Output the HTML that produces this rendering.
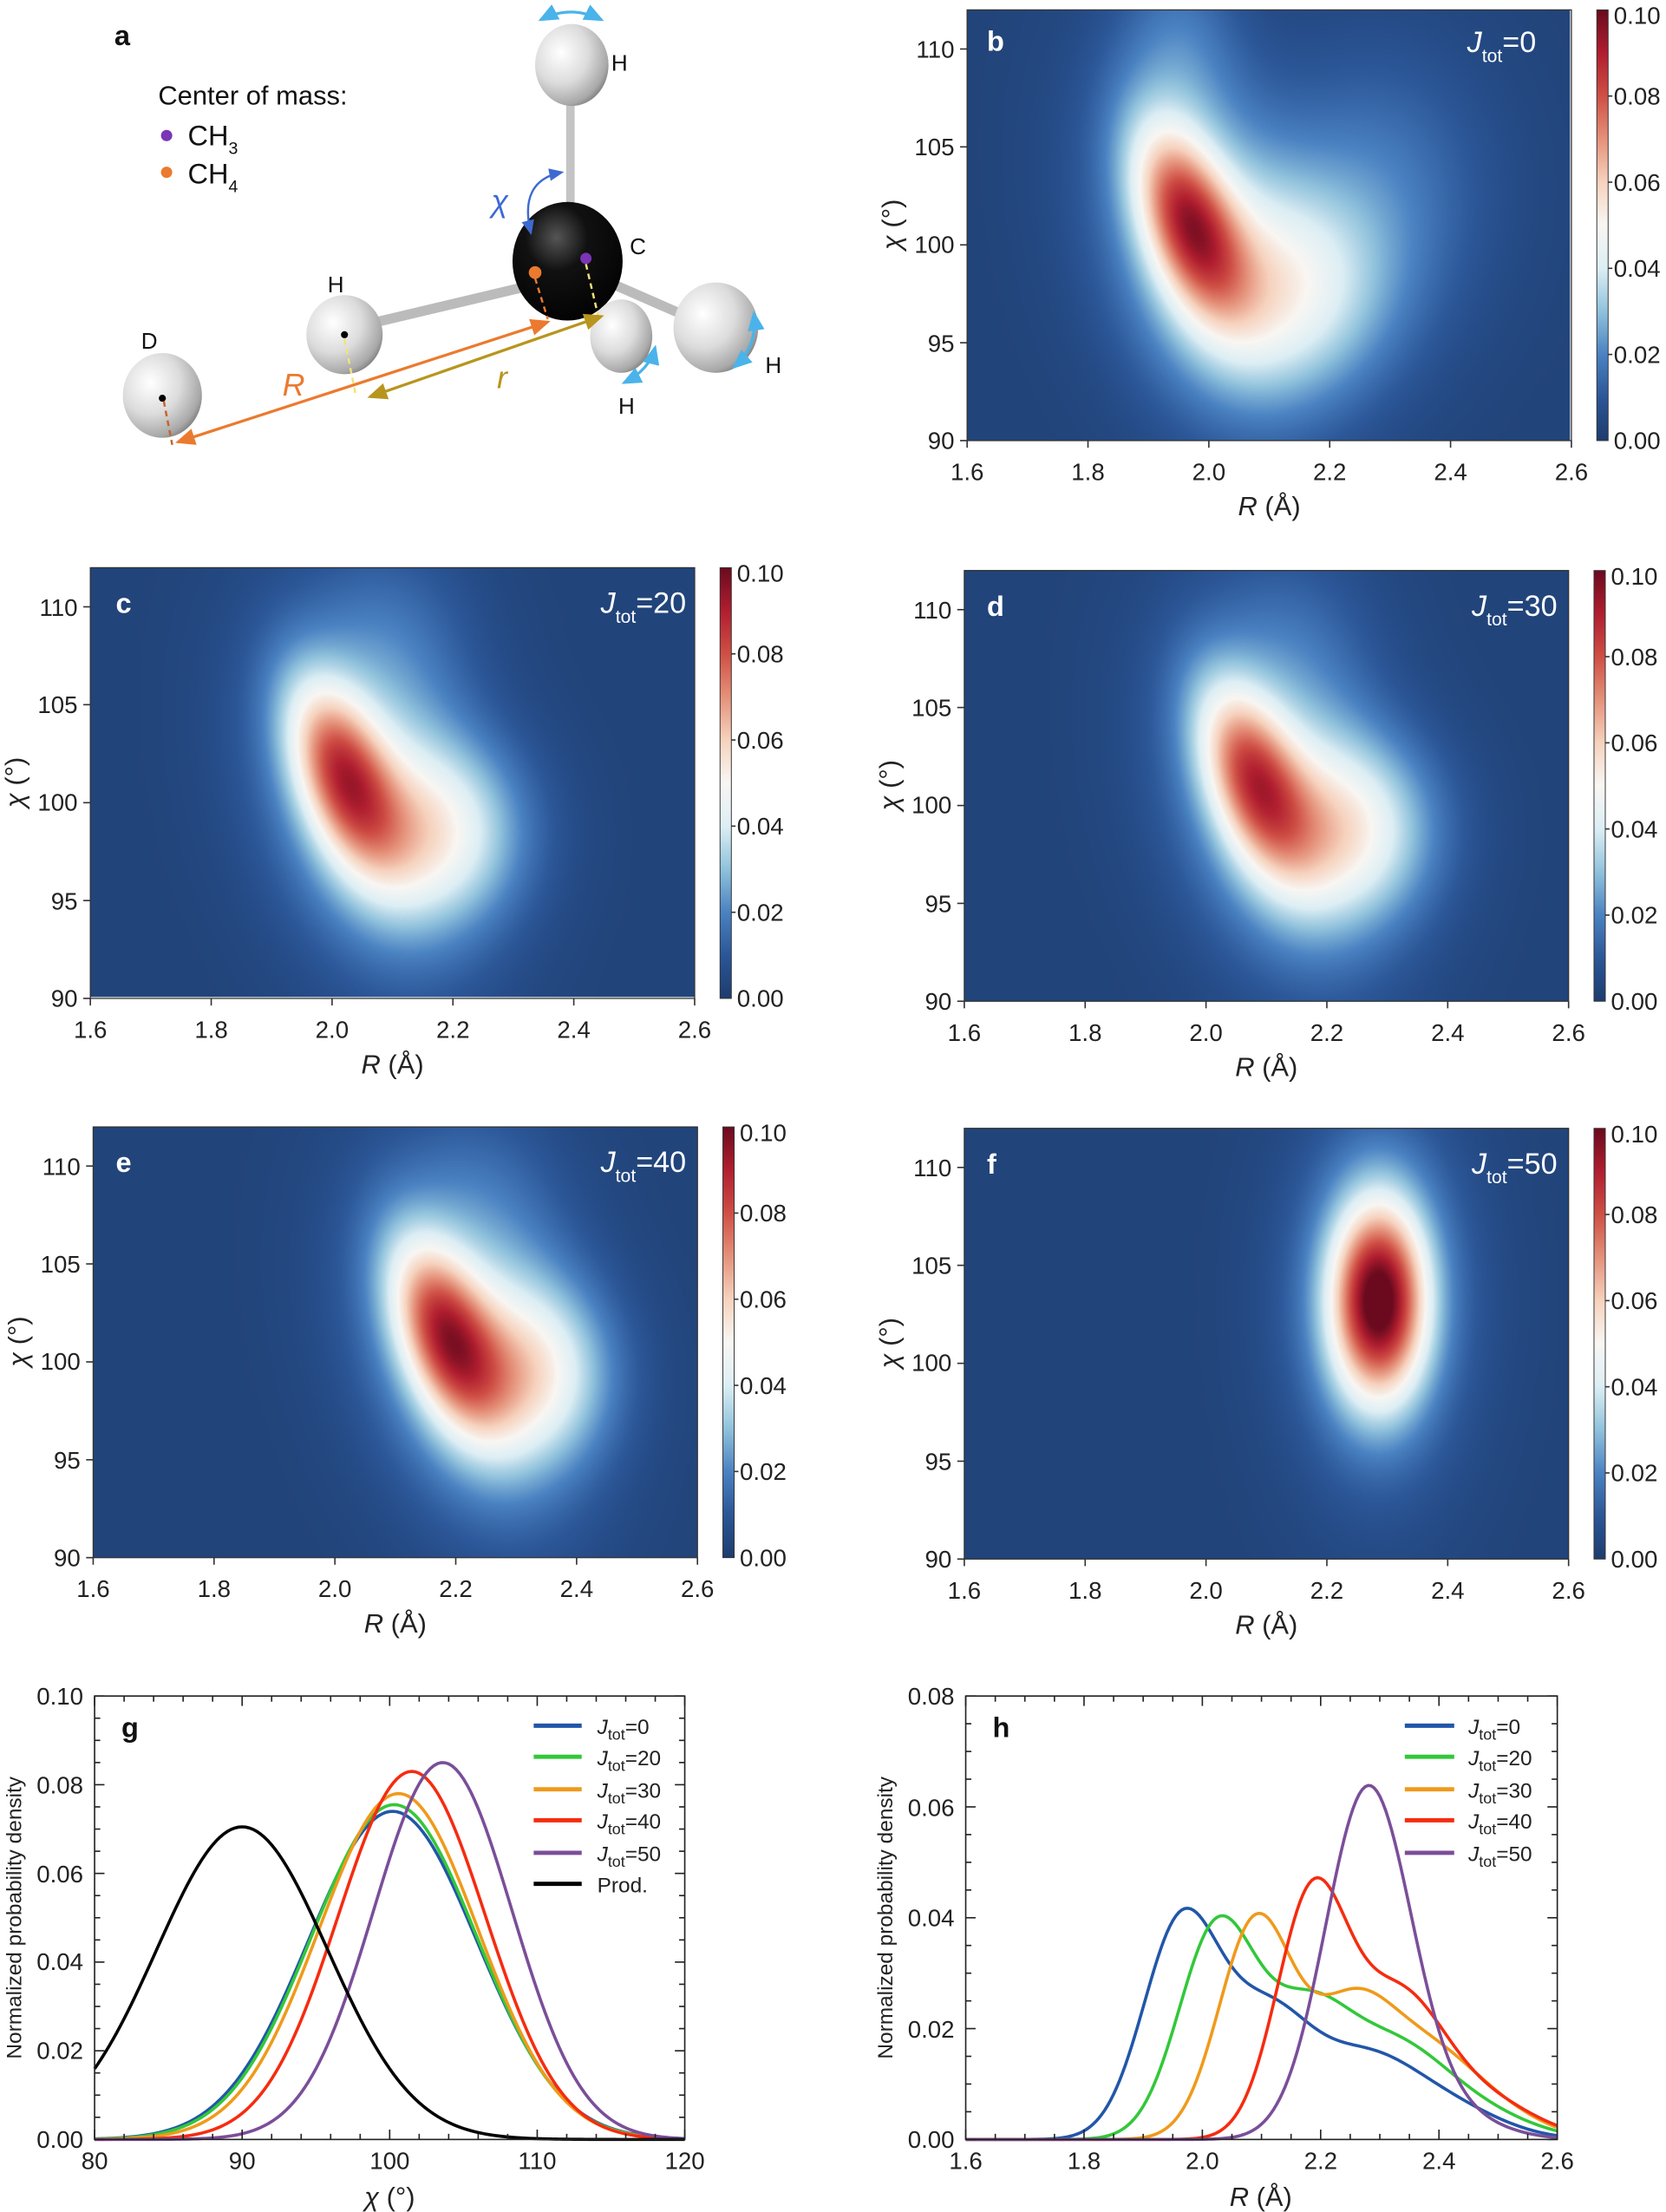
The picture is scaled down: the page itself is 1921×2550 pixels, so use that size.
<!DOCTYPE html>
<html><head><meta charset="utf-8">
<style>
html,body{margin:0;padding:0;background:#fff;overflow:hidden;width:1921px;height:2550px}
#w{position:absolute;left:0;top:0;width:1180px;height:1566px;transform:scale(1.62797);transform-origin:0 0}
canvas{position:absolute}
svg{position:absolute;left:0;top:0}
text{font-family:"Liberation Sans",Arial,sans-serif}
.t{font-size:17px;fill:#222}
.ax{font-size:19px;fill:#222}
.sm{font-size:15px;fill:#222}
</style></head><body><div id="w">
<canvas id="cb" style="left:685px;top:7px;width:427px;height:305px" width="854" height="610"></canvas>
<canvas id="cc" style="left:64px;top:402px;width:428px;height:304px" width="856" height="608"></canvas>
<canvas id="cd" style="left:683px;top:404px;width:428px;height:305px" width="856" height="610"></canvas>
<canvas id="ce" style="left:66px;top:798px;width:428px;height:305px" width="856" height="610"></canvas>
<canvas id="cf" style="left:683px;top:799px;width:428px;height:305px" width="856" height="610"></canvas>
<svg width="1180" height="1566" viewBox="0 0 1180 1566">
<defs>
<linearGradient id="cmap" x1="0" y1="1" x2="0" y2="0">
<stop offset="0" stop-color="#1d3c6e"/><stop offset="0.1" stop-color="#2b5697"/><stop offset="0.2" stop-color="#4a82c2"/><stop offset="0.3" stop-color="#90c2dc"/><stop offset="0.4" stop-color="#dceef4"/><stop offset="0.5" stop-color="#f8f6f3"/><stop offset="0.6" stop-color="#f6d2bd"/><stop offset="0.7" stop-color="#e5917a"/><stop offset="0.8" stop-color="#cf4f45"/><stop offset="0.9" stop-color="#b01e2f"/><stop offset="1" stop-color="#6b0a1e"/>
</linearGradient>
<radialGradient id="hsph" cx="0.35" cy="0.35" r="0.75"><stop offset="0" stop-color="#ffffff"/><stop offset="0.5" stop-color="#dcdcdc"/><stop offset="0.85" stop-color="#a8a8a8"/><stop offset="1" stop-color="#707070"/></radialGradient>
<radialGradient id="csph" cx="0.4" cy="0.3" r="0.8"><stop offset="0" stop-color="#555"/><stop offset="0.35" stop-color="#111"/><stop offset="1" stop-color="#000"/></radialGradient>
<marker id="ao" markerWidth="8" markerHeight="8" refX="6" refY="4" orient="auto-start-reverse"><path d="M0,1 L7,4 L0,7z" fill="#ec7a2e"/></marker>
<marker id="ag" markerWidth="8" markerHeight="8" refX="6" refY="4" orient="auto-start-reverse"><path d="M0,1 L7,4 L0,7z" fill="#b8961e"/></marker>
<marker id="ab" markerWidth="8" markerHeight="8" refX="6" refY="4" orient="auto-start-reverse"><path d="M0,1 L7,4 L0,7z" fill="#3d6ad1"/></marker>
<marker id="ac" markerWidth="8" markerHeight="8" refX="6" refY="4" orient="auto-start-reverse"><path d="M0,1 L7,4 L0,7z" fill="#4ab3ea"/></marker>
<g id="hp">
<rect x="0" y="0" width="428" height="305" fill="none" stroke="#333" stroke-width="0.8"/>
<g stroke="#333" stroke-width="1">
<line x1="0" y1="305" x2="0" y2="310"/><line x1="85.6" y1="305" x2="85.6" y2="310"/><line x1="171.2" y1="305" x2="171.2" y2="310"/><line x1="256.8" y1="305" x2="256.8" y2="310"/><line x1="342.4" y1="305" x2="342.4" y2="310"/><line x1="428" y1="305" x2="428" y2="310"/>
<line x1="-5" y1="27.7" x2="0" y2="27.7"/><line x1="-5" y1="97" x2="0" y2="97"/><line x1="-5" y1="166.4" x2="0" y2="166.4"/><line x1="-5" y1="235.7" x2="0" y2="235.7"/><line x1="-5" y1="305" x2="0" y2="305"/>
</g>
<rect x="446" y="0" width="8" height="305" fill="url(#cmap)" stroke="#333" stroke-width="0.6"/>
<g stroke="#333"><line x1="454" y1="61" x2="457" y2="61"/><line x1="454" y1="122" x2="457" y2="122"/><line x1="454" y1="183" x2="457" y2="183"/><line x1="454" y1="244" x2="457" y2="244"/></g>
<g class="t" text-anchor="middle">
<text x="0" y="333">1.6</text><text x="85.6" y="333">1.8</text><text x="171.2" y="333">2.0</text><text x="256.8" y="333">2.2</text><text x="342.4" y="333">2.4</text><text x="428" y="333">2.6</text>
</g>
<g class="t" text-anchor="end">
<text x="-9" y="34">110</text><text x="-9" y="103">105</text><text x="-9" y="172">100</text><text x="-9" y="242">95</text><text x="-9" y="311">90</text>
</g>
<g class="t">
<text x="458" y="10">0.10</text><text x="458" y="67">0.08</text><text x="458" y="128">0.06</text><text x="458" y="189">0.04</text><text x="458" y="250">0.02</text><text x="458" y="311">0.00</text>
</g>
<text x="214" y="358" class="ax" text-anchor="middle"><tspan font-style="italic">R</tspan> (Å)</text>
<text transform="translate(-47,152) rotate(-90)" class="ax" text-anchor="middle"><tspan font-style="italic">χ</tspan> (°)</text>
</g>
</defs>

<!-- Panel a -->
<text x="81" y="32" style="font-size:20px;font-weight:bold" fill="#111">a</text>
<text x="112" y="74" style="font-size:19px" fill="#111">Center of mass:</text>
<circle cx="118" cy="96" r="4" fill="#7a35b5"/><text x="133" y="103" style="font-size:20px" fill="#111">CH<tspan dy="6" style="font-size:12px">3</tspan></text>
<circle cx="118" cy="122" r="4" fill="#ec7a2e"/><text x="133" y="130" style="font-size:20px" fill="#111">CH<tspan dy="6" style="font-size:12px">4</tspan></text>
<line x1="404" y1="60" x2="404" y2="170" stroke="#c4c4c4" stroke-width="6"/>
<line x1="250" y1="232" x2="385" y2="200" stroke="#bbb" stroke-width="7"/>
<line x1="420" y1="195" x2="500" y2="230" stroke="#bbb" stroke-width="7"/>
<ellipse cx="405" cy="46" rx="26" ry="29" fill="url(#hsph)"/>
<ellipse cx="244" cy="237" rx="27" ry="28" fill="url(#hsph)"/>
<ellipse cx="115" cy="280" rx="28" ry="30" fill="url(#hsph)"/>
<ellipse cx="402" cy="185" rx="39" ry="42" fill="url(#csph)"/>
<ellipse cx="440" cy="238" rx="22" ry="26" fill="url(#hsph)"/>
<ellipse cx="507" cy="232" rx="30" ry="32" fill="url(#hsph)"/>
<circle cx="415" cy="183" r="4" fill="#7a35b5"/><circle cx="379" cy="193" r="4.5" fill="#ec7a2e"/>
<circle cx="244" cy="237" r="2.5" fill="#000"/><circle cx="115" cy="282" r="2.5" fill="#000"/>
<line x1="379" y1="197" x2="388" y2="226" stroke="#ec7a2e" stroke-width="1.5" stroke-dasharray="4,3"/>
<line x1="415" y1="187" x2="424" y2="225" stroke="#f1e27a" stroke-width="1.5" stroke-dasharray="4,3"/>
<line x1="244" y1="240" x2="252" y2="280" stroke="#f1e27a" stroke-width="1.5" stroke-dasharray="4,3"/>
<line x1="116" y1="284" x2="122" y2="315" stroke="#c5642a" stroke-width="1.5" stroke-dasharray="4,3"/>
<line x1="126" y1="313" x2="388" y2="228" stroke="#ec7a2e" stroke-width="2" marker-start="url(#ao)" marker-end="url(#ao)"/>
<line x1="262" y1="281" x2="426" y2="224" stroke="#b8961e" stroke-width="2" marker-start="url(#ag)" marker-end="url(#ag)"/>
<path d="M376,165 Q367,128 398,122" fill="none" stroke="#3d6ad1" stroke-width="1.5" marker-start="url(#ab)" marker-end="url(#ab)"/>
<path d="M383,14 Q404,3 426,14" fill="none" stroke="#4ab3ea" stroke-width="2" marker-start="url(#ac)" marker-end="url(#ac)"/>
<path d="M442,271 Q460,262 464,246" fill="none" stroke="#4ab3ea" stroke-width="2" marker-start="url(#ac)" marker-end="url(#ac)"/>
<path d="M520,260 Q537,245 534,222" fill="none" stroke="#4ab3ea" stroke-width="2" marker-start="url(#ac)" marker-end="url(#ac)"/>
<text x="348" y="150" style="font-size:22px;font-style:italic" fill="#3d6ad1">χ</text>
<text x="200" y="280" style="font-size:22px;font-style:italic" fill="#ec7a2e">R</text>
<text x="352" y="275" style="font-size:22px;font-style:italic" fill="#b8961e">r</text>
<text x="433" y="50" style="font-size:16px" fill="#111">H</text>
<text x="446" y="180" style="font-size:16px" fill="#111">C</text>
<text x="232" y="207" style="font-size:16px" fill="#111">H</text>
<text x="542" y="264" style="font-size:16px" fill="#111">H</text>
<text x="438" y="293" style="font-size:16px" fill="#111">H</text>
<text x="100" y="247" style="font-size:16px" fill="#111">D</text>
</svg>
<svg id="s2" width="1180" height="1566" viewBox="0 0 1180 1566">
<g transform="translate(685,7)"><use href="#hp"/><text x="14" y="29" style="font-size:20px;font-weight:bold" fill="#fff">b</text><text x="403" y="30" text-anchor="end" style="font-size:21px" fill="#fff"><tspan font-style="italic">J</tspan><tspan dy="7" style="font-size:13px">tot</tspan><tspan dy="-7">=0</tspan></text></g>
<g transform="translate(64,402)"><use href="#hp"/><text x="18" y="32" style="font-size:20px;font-weight:bold" fill="#fff">c</text><text x="422" y="32" text-anchor="end" style="font-size:21px" fill="#fff"><tspan font-style="italic">J</tspan><tspan dy="7" style="font-size:13px">tot</tspan><tspan dy="-7">=20</tspan></text></g>
<g transform="translate(683,404)"><use href="#hp"/><text x="16" y="32" style="font-size:20px;font-weight:bold" fill="#fff">d</text><text x="420" y="32" text-anchor="end" style="font-size:21px" fill="#fff"><tspan font-style="italic">J</tspan><tspan dy="7" style="font-size:13px">tot</tspan><tspan dy="-7">=30</tspan></text></g>
<g transform="translate(66,798)"><use href="#hp"/><text x="16" y="32" style="font-size:20px;font-weight:bold" fill="#fff">e</text><text x="420" y="32" text-anchor="end" style="font-size:21px" fill="#fff"><tspan font-style="italic">J</tspan><tspan dy="7" style="font-size:13px">tot</tspan><tspan dy="-7">=40</tspan></text></g>
<g transform="translate(683,799)"><use href="#hp"/><text x="16" y="32" style="font-size:20px;font-weight:bold" fill="#fff">f</text><text x="420" y="32" text-anchor="end" style="font-size:21px" fill="#fff"><tspan font-style="italic">J</tspan><tspan dy="7" style="font-size:13px">tot</tspan><tspan dy="-7">=50</tspan></text></g>

<!-- Panel g -->
<g transform="translate(67,1201)">
<g id="gcurves"></g>
<rect x="0" y="0" width="418" height="314" fill="none" stroke="#222" stroke-width="1"/>
<g id="gticks" stroke="#222" stroke-width="1"></g>
<g class="t" text-anchor="middle"><text x="0" y="335">80</text><text x="104.5" y="335">90</text><text x="209" y="335">100</text><text x="313.5" y="335">110</text><text x="418" y="335">120</text></g>
<g class="t" text-anchor="end"><text x="-8" y="6">0.10</text><text x="-8" y="69">0.08</text><text x="-8" y="132">0.06</text><text x="-8" y="194">0.04</text><text x="-8" y="257">0.02</text><text x="-8" y="320">0.00</text></g>
<text x="19" y="29" style="font-size:20px;font-weight:bold" fill="#111">g</text>
<text x="209" y="361" class="ax" text-anchor="middle"><tspan font-style="italic">χ</tspan> (°)</text>
<text transform="translate(-52,157) rotate(-90)" class="sm" text-anchor="middle">Normalized probability density</text>
<g stroke-width="3"><line x1="311" y1="21" x2="345" y2="21" stroke="#2156a8"/><line x1="311" y1="43" x2="345" y2="43" stroke="#33c73a"/><line x1="311" y1="66" x2="345" y2="66" stroke="#f09a1c"/><line x1="311" y1="88" x2="345" y2="88" stroke="#f52c10"/><line x1="311" y1="111" x2="345" y2="111" stroke="#7b4e9a"/><line x1="311" y1="133" x2="345" y2="133" stroke="#000"/></g>
<g class="sm"><text x="356" y="27"><tspan font-style="italic">J</tspan><tspan dy="4" style="font-size:11px">tot</tspan><tspan dy="-4">=0</tspan></text><text x="356" y="49"><tspan font-style="italic">J</tspan><tspan dy="4" style="font-size:11px">tot</tspan><tspan dy="-4">=20</tspan></text><text x="356" y="72"><tspan font-style="italic">J</tspan><tspan dy="4" style="font-size:11px">tot</tspan><tspan dy="-4">=30</tspan></text><text x="356" y="94"><tspan font-style="italic">J</tspan><tspan dy="4" style="font-size:11px">tot</tspan><tspan dy="-4">=40</tspan></text><text x="356" y="117"><tspan font-style="italic">J</tspan><tspan dy="4" style="font-size:11px">tot</tspan><tspan dy="-4">=50</tspan></text><text x="356" y="139">Prod.</text></g>
</g>

<!-- Panel h -->
<g transform="translate(684,1201)">
<g id="hcurves"></g>
<rect x="0" y="0" width="419" height="314" fill="none" stroke="#222" stroke-width="1"/>
<g id="hticks" stroke="#222" stroke-width="1"></g>
<g class="t" text-anchor="middle"><text x="0" y="335">1.6</text><text x="83.8" y="335">1.8</text><text x="167.6" y="335">2.0</text><text x="251.4" y="335">2.2</text><text x="335.2" y="335">2.4</text><text x="419" y="335">2.6</text></g>
<g class="t" text-anchor="end"><text x="-8" y="6">0.08</text><text x="-8" y="85">0.06</text><text x="-8" y="163">0.04</text><text x="-8" y="242">0.02</text><text x="-8" y="320">0.00</text></g>
<text x="19" y="29" style="font-size:20px;font-weight:bold" fill="#111">h</text>
<text x="209" y="361" class="ax" text-anchor="middle"><tspan font-style="italic">R</tspan> (Å)</text>
<text transform="translate(-52,157) rotate(-90)" class="sm" text-anchor="middle">Normalized probability density</text>
<g stroke-width="3"><line x1="311" y1="21" x2="346" y2="21" stroke="#2156a8"/><line x1="311" y1="43" x2="346" y2="43" stroke="#33c73a"/><line x1="311" y1="66" x2="346" y2="66" stroke="#f09a1c"/><line x1="311" y1="88" x2="346" y2="88" stroke="#f52c10"/><line x1="311" y1="111" x2="346" y2="111" stroke="#7b4e9a"/></g>
<g class="sm"><text x="356" y="27"><tspan font-style="italic">J</tspan><tspan dy="4" style="font-size:11px">tot</tspan><tspan dy="-4">=0</tspan></text><text x="356" y="49"><tspan font-style="italic">J</tspan><tspan dy="4" style="font-size:11px">tot</tspan><tspan dy="-4">=20</tspan></text><text x="356" y="72"><tspan font-style="italic">J</tspan><tspan dy="4" style="font-size:11px">tot</tspan><tspan dy="-4">=30</tspan></text><text x="356" y="94"><tspan font-style="italic">J</tspan><tspan dy="4" style="font-size:11px">tot</tspan><tspan dy="-4">=40</tspan></text><text x="356" y="117"><tspan font-style="italic">J</tspan><tspan dy="4" style="font-size:11px">tot</tspan><tspan dy="-4">=50</tspan></text></g>
</g>
</svg>
</div>
<script>
var stops=[[0,[29,60,110]],[0.1,[43,86,151]],[0.2,[74,130,194]],[0.3,[144,194,220]],[0.4,[220,238,244]],[0.5,[248,246,243]],[0.6,[246,210,189]],[0.7,[229,145,122]],[0.8,[207,79,69]],[0.9,[176,30,47]],[1,[107,10,30]]];
function cm(v){v=Math.max(0,Math.min(1,v));for(var i=1;i<stops.length;i++){if(v<=stops[i][0]){var a=stops[i-1],b=stops[i],t=(v-a[0])/(b[0]-a[0]);return [a[1][0]+(b[1][0]-a[1][0])*t,a[1][1]+(b[1][1]-a[1][1])*t,a[1][2]+(b[1][2]-a[1][2])*t];}}return stops[10][1];}
function heat(id,comps){var c=document.getElementById(id),W=c.width,H=c.height,ctx=c.getContext('2d'),img=ctx.createImageData(W,H),d=img.data;
for(var y=0;y<H;y++){var chi=112-22*y/H;for(var x=0;x<W;x++){var R=1.6+x/W;var v=0.003;
for(var k=0;k<comps.length;k++){var p=comps[k];var dr=(R-p[1]-p[5]*(chi-p[2]))/p[3],dc=(chi-p[2])/p[4];v+=p[0]*Math.exp(-0.5*(dr*dr+dc*dc));}
var col=cm(v/0.1),i=(y*W+x)*4;d[i]=col[0];d[i+1]=col[1];d[i+2]=col[2];d[i+3]=255;}}ctx.putImageData(img,0,0);}
heat('cb',[[0.058,1.965,101.3,0.055,3.3,-0.009],[0.028,2.0,100,0.12,6,-0.006],[0.03,2.14,97.5,0.12,3.8,0],[0.014,2.28,103,0.13,5,0],[0.012,1.95,110,0.07,4,0]]);
heat('cc',[[0.056,2.015,101.5,0.055,3.3,-0.009],[0.027,2.06,100,0.12,6,-0.006],[0.034,2.18,98.5,0.1,3.3,0],[0.01,2.1,108,0.1,4,0]]);
heat('cd',[[0.054,2.075,101.5,0.055,3.3,-0.009],[0.027,2.12,100,0.12,6,-0.006],[0.036,2.24,98.8,0.1,3.3,0],[0.008,2.15,108,0.1,4,0]]);
heat('ce',[[0.058,2.18,101.5,0.055,3.3,-0.009],[0.027,2.22,100.5,0.12,6,-0.006],[0.036,2.33,99.5,0.09,3.3,0],[0.008,2.25,108,0.1,4,0]]);
heat('cf',[[0.08,2.285,103.2,0.055,3.5,0],[0.024,2.285,103.2,0.1,6.2,0]]);
var NS='http://www.w3.org/2000/svg';
function path(g,d,col){var p=document.createElementNS(NS,'path');p.setAttribute('d',d);p.setAttribute('fill','none');p.setAttribute('stroke',col);p.setAttribute('stroke-width','2.2');g.appendChild(p);}
function line(g,x1,y1,x2,y2){var l=document.createElementNS(NS,'line');l.setAttribute('x1',x1);l.setAttribute('y1',y1);l.setAttribute('x2',x2);l.setAttribute('y2',y2);g.appendChild(l);}
var gg=document.getElementById('gcurves');
[[100.2,0.074,5.7,'#2156a8'],[100.3,0.0755,5.6,'#33c73a'],[100.6,0.078,5.4,'#f09a1c'],[101.5,0.083,5.0,'#f52c10'],[103.6,0.085,4.7,'#7b4e9a'],[90,0.0705,5.8,'#000']].forEach(function(s){var d='';for(var x=80;x<=120.01;x+=0.25){var v=s[1]*Math.exp(-0.5*Math.pow((x-s[0])/s[2],2));d+=(d?'L':'M')+((x-80)*418/40).toFixed(2)+','+(314-v*3140).toFixed(2);}path(gg,d,s[3]);});
var hg=document.getElementById('hcurves');
[[[0.039,1.965,0.065],[0.02,2.11,0.07],[0.014,2.27,0.09],[0.005,2.42,0.09]],'#2156a8',
 [[0.038,2.025,0.065],[0.02,2.175,0.07],[0.016,2.32,0.09],[0.004,2.47,0.09]],'#33c73a',
 [[0.039,2.09,0.062],[0.022,2.25,0.07],[0.014,2.38,0.08],[0.004,2.5,0.08]],'#f09a1c',
 [[0.043,2.185,0.06],[0.024,2.33,0.075],[0.007,2.47,0.09]],'#f52c10',
 [[0.063,2.28,0.072],[0.004,2.42,0.08]],'#7b4e9a'].forEach(function(s,i,arr){if(i%2)return;var col=arr[i+1];var d='';for(var x=1.6;x<=2.6001;x+=0.005){var v=0;s.forEach(function(c){v+=c[0]*Math.exp(-0.5*Math.pow((x-c[1])/c[2],2));});d+=(d?'L':'M')+((x-1.6)*419).toFixed(2)+','+(314-v*3925).toFixed(2);}path(hg,d,col);});
var gt=document.getElementById('gticks');
for(var k=0;k<=20;k++){var x=k*418/20,L=(k%5==0)?7:4;line(gt,x,314,x,314-L);line(gt,x,0,x,L);}
for(var k=0;k<=20;k++){var y=k*314/20,L=(k%4==0)?7:4;line(gt,0,y,L,y);line(gt,418,y,418-L,y);}
var ht=document.getElementById('hticks');
for(var k=0;k<=20;k++){var x=k*419/20,L=(k%4==0)?7:4;line(ht,x,314,x,314-L);line(ht,x,0,x,L);}
for(var k=0;k<=16;k++){var y=k*314/16,L=(k%4==0)?7:4;line(ht,0,y,L,y);line(ht,419,y,419-L,y);}
</script>
</body></html>
